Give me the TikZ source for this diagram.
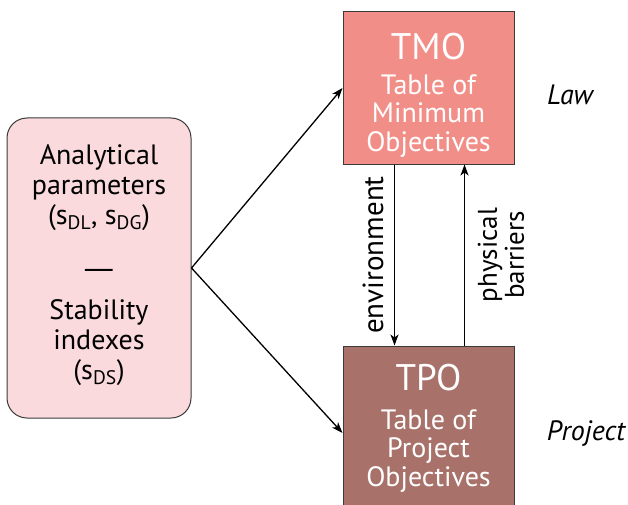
\documentclass[tikz,border=0pt]{standalone}
\usepackage{fontspec}
\setmainfont{PT Sans}
\usetikzlibrary{arrows.meta}
\definecolor{tmoc}{HTML}{F28E88}
\definecolor{tpoc}{HTML}{A8726A}
\definecolor{leftc}{HTML}{FADADD}
\definecolor{edgec}{HTML}{3A3A3A}
\begin{document}
\begin{tikzpicture}[x=1pt,y=-1pt,
  srcbox/.style={draw=edgec,line width=1pt,fill=leftc,rounded corners=20pt,minimum width=184pt,minimum height=300pt,inner sep=0pt},
  tbox/.style={draw=edgec,line width=1pt,minimum width=171pt,inner sep=0pt},
  intext/.style={align=center,text=white,font=\fontsize{28}{28.5}\selectfont,inner sep=0pt},
  lbl/.style={font=\fontsize{25}{27}\selectfont,inner sep=0pt,align=center},
  arr/.style={line width=1.3pt,-{Stealth[length=11pt,width=8pt,inset=3pt]}}]
\useasboundingbox (0,0) rectangle (628,505);
\node[srcbox] (src) at (99,268) {};
\node[lbl,font=\fontsize{28}{30}\selectfont] (srctext) at (99,265) {Analytical\\parameters\\(s\textsubscript{DL}, s\textsubscript{DG})\\[24pt]\scalebox{1.7}[1]{—}\\[11pt]Stability\\indexes\\(s\textsubscript{DS})};
\node[tbox,fill=tmoc,minimum height=152pt] (tmo) at (428.5,88) {};
\node[intext,font=\fontsize{37}{37}\selectfont] (tmot) at (428.5,47) {TMO};
\node[intext] (tmos) at (428.5,116) {Table of\\Minimum\\Objectives};
\node[tbox,fill=tpoc,minimum height=174pt] (tpo) at (428.5,433) {};
\node[intext,font=\fontsize{37}{37}\selectfont] (tpot) at (428.5,378) {TPO};
\node[intext] (tpos) at (428.5,451) {Table of\\Project\\Objectives};
\coordinate (fork) at (src.east);
\draw[arr] (fork) -- (tmo.west);
\draw[arr] (fork) -- (tpo.west);
\draw[arr] ([xshift=-34pt]tmo.south) -- ([xshift=-34pt]tpo.north);
\draw[arr] ([xshift=36pt]tpo.north) -- ([xshift=36pt]tmo.south);
\node[lbl,rotate=90,font=\fontsize{29}{29}\selectfont] (env) at (373,255) {environment};
\node[lbl,rotate=90,font=\fontsize{27}{27}\selectfont] (phys) at (501,255) {physical\\barriers};
\node[lbl,font=\itshape\fontsize{28}{28}\selectfont] (law) at (570,95) {Law};
\node[lbl,font=\itshape\fontsize{28}{28}\selectfont] (proj) at (586,433) {Project};
\end{tikzpicture}
\end{document}
